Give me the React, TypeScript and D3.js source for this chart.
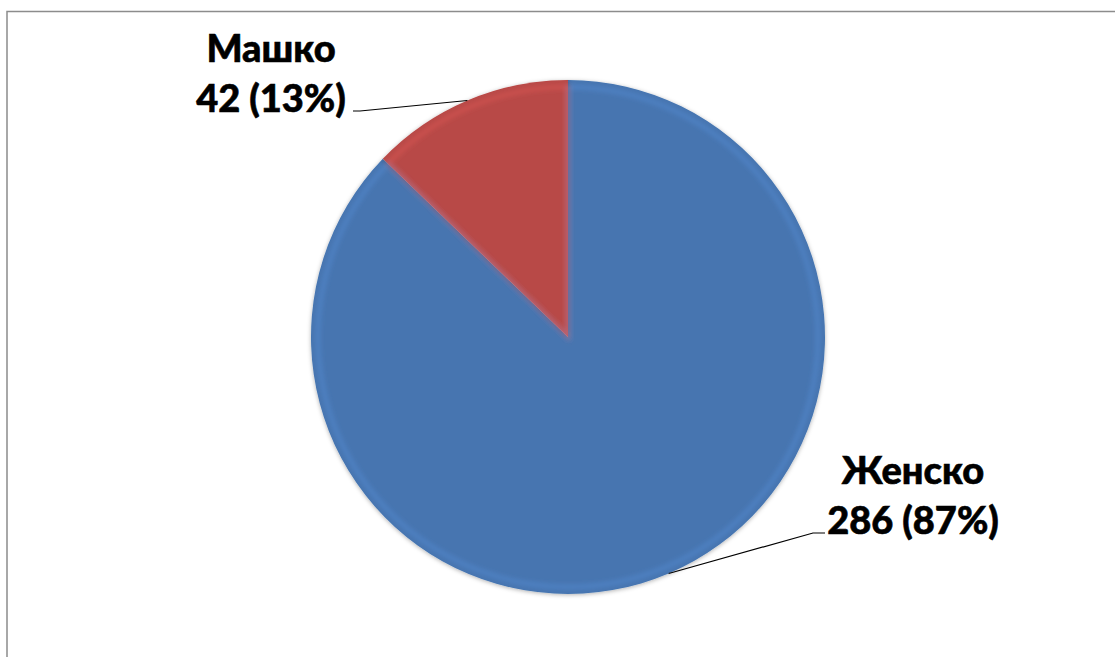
import React, { useEffect, useRef } from "react";
import * as d3 from "d3";

// data
const categories = ["Женско", "Машко"];
const counts = [286, 42];
const percentLabels = ["87%", "13%"];
const sliceColors = ["#4d80c0", "#c94f4c"];

const W = 1115;
const H = 657;

const App = () => {
    const svgRef = useRef<SVGSVGElement>(null);

    useEffect(() => {
        const svg = d3.select(svgRef.current);
        svg.selectAll("*").remove();

        const cx = 568;
        const cy = 337;
        const radius = 257;

        const defs = svg.append("defs");

        // soft shading per slice
        sliceColors.forEach((c, i) => {
            const g = defs
                .append("radialGradient")
                .attr("id", `grad${i}`)
                .attr("gradientUnits", "userSpaceOnUse")
                .attr("cx", cx)
                .attr("cy", cy - 40)
                .attr("r", radius * 1.1);
            const base = d3.color(c);
            g.append("stop").attr("offset", "0%").attr("stop-color", base.brighter(0.05).formatHex());
            g.append("stop").attr("offset", "85%").attr("stop-color", c);
            g.append("stop").attr("offset", "100%").attr("stop-color", base.darker(0.25).formatHex());
        });

        const shadow = defs
            .append("filter")
            .attr("id", "shadow")
            .attr("x", "-10%")
            .attr("y", "-10%")
            .attr("width", "120%")
            .attr("height", "120%");
        shadow
            .append("feDropShadow")
            .attr("dx", 0)
            .attr("dy", 1)
            .attr("stdDeviation", 2)
            .attr("flood-color", "#000")
            .attr("flood-opacity", 0.3);

        const blur = defs.append("filter").attr("id", "soft");
        blur.append("feGaussianBlur").attr("stdDeviation", 2.5);

        // chart border
        svg.append("rect")
            .attr("x", 7)
            .attr("y", 11.5)
            .attr("width", W + 20)
            .attr("height", H + 20)
            .attr("fill", "none")
            .attr("stroke", "#8c8c8c")
            .attr("stroke-width", 1.5);

        const pie = d3.pie<number>().sort(null).value((d) => d);
        const arcs = pie(counts);
        const arc = d3.arc<d3.PieArcDatum<number>>().innerRadius(0).outerRadius(radius);
        const innerArc = d3.arc<d3.PieArcDatum<number>>().innerRadius(0).outerRadius(radius - 7);

        const g = svg.append("g").attr("transform", `translate(${cx},${cy})`);

        g.selectAll("path.slice")
            .data(arcs)
            .join("path")
            .attr("class", "slice")
            .attr("d", arc)
            .attr("fill", (d, i) => `url(#grad${i})`)
            .attr("filter", "url(#shadow)");

        // blurred bevel highlight along the rim
        g.selectAll("path.bevel")
            .data(arcs)
            .join("path")
            .attr("class", "bevel")
            .attr("d", innerArc)
            .attr("fill", "none")
            .attr("stroke", (d, i) => d3.color(sliceColors[i]).brighter(0.6).formatHex())
            .attr("stroke-opacity", 0.35)
            .attr("stroke-width", 4)
            .attr("filter", "url(#soft)");

        // labels with leader lines
        const labelSpec = [
            { x: 913, y: 484, elbow: 813, end: 825 },
            { x: 271, y: 62, elbow: 360, end: 353 },
        ];
        const lineGap = 50;

        arcs.forEach((d, i) => {
            const mid = (d.startAngle + d.endAngle) / 2;
            const px = cx + radius * Math.sin(mid);
            const py = cy - radius * Math.cos(mid);
            const s = labelSpec[i];
            const ly = s.y + lineGap;

            svg.append("path")
                .attr("d", d3.line()([[px, py], [s.elbow, ly - 1], [s.end, ly - 1]]))
                .attr("fill", "none")
                .attr("stroke", "#000")
                .attr("stroke-width", 1.2);

            const t = svg.append("text")
                .attr("text-anchor", "middle")
                .attr("font-family", "Lato, 'Noto Sans', sans-serif")
                .attr("font-weight", 900)
                .attr("font-size", 38)
                .attr("fill", "#000")
                .attr("stroke", "#000")
                .attr("stroke-width", 0.6);
            t.append("tspan").attr("x", s.x).attr("y", s.y).text(categories[i]);
            t.append("tspan")
                .attr("x", s.x)
                .attr("y", ly)
                .text(`${counts[i]} (${percentLabels[i]})`);
        });
    }, []);

    return (
        <svg
            ref={svgRef}
            width={W}
            height={H}
            style={{ position: "fixed", left: 0, top: 0, background: "#fff" }}
        ></svg>
    );
};

export default App;
